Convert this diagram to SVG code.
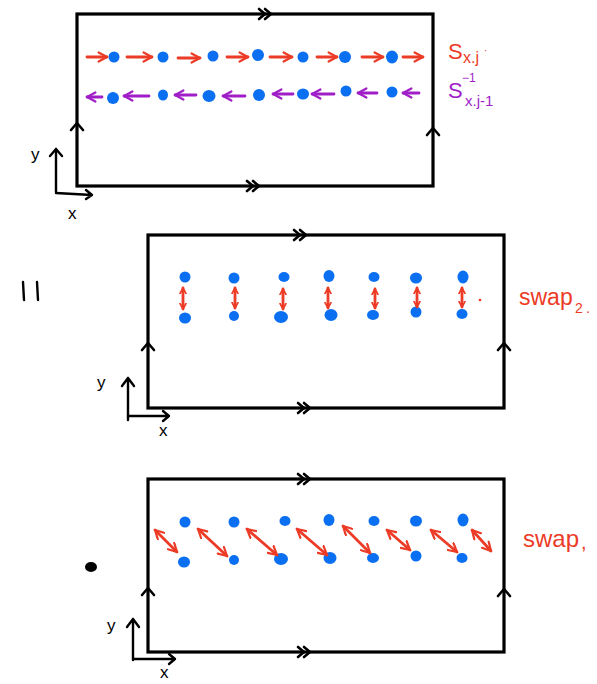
<svg xmlns="http://www.w3.org/2000/svg" width="597" height="684" viewBox="0 0 597 684">
<style>
.box{fill:none;stroke:#000;stroke-width:3.2;stroke-linejoin:miter}
.chev{fill:none;stroke:#000;stroke-width:2.6;stroke-linecap:round;stroke-linejoin:round}
.dot{fill:#0a6ff0}
.ra{fill:none;stroke:#ec3b26;stroke-width:2.8;stroke-linecap:round}
.pa{fill:none;stroke:#a01ec8;stroke-width:2.8;stroke-linecap:round}
.red{fill:#ec3b26;font-family:"Liberation Sans",Arial,sans-serif}
.pur{fill:#a01ec8;font-family:"Liberation Sans",Arial,sans-serif}
.ax{fill:none;stroke:#000;stroke-width:2.4;stroke-linecap:round;stroke-linejoin:round}
.axl{fill:#000;font-family:"Liberation Sans",Arial,sans-serif;font-size:17px}
</style>
<defs>
<marker id="mr" viewBox="0 0 10 10" refX="8.5" refY="5" markerWidth="4" markerHeight="4" orient="auto-start-reverse" markerUnits="strokeWidth">
<path d="M1,1 L8.5,5 L1,9" fill="none" stroke="#ec3b26" stroke-width="2" stroke-linecap="round" stroke-linejoin="round"/>
</marker>
<marker id="ms" viewBox="0 0 10 10" refX="8.5" refY="5" markerWidth="2.6" markerHeight="2.6" orient="auto-start-reverse" markerUnits="strokeWidth">
<path d="M1,1 L8.5,5 L1,9" fill="none" stroke="#ec3b26" stroke-width="2.4" stroke-linecap="round" stroke-linejoin="round"/>
</marker>
<marker id="mp" viewBox="0 0 10 10" refX="8.5" refY="5" markerWidth="4" markerHeight="4" orient="auto-start-reverse" markerUnits="strokeWidth">
<path d="M1,1 L8.5,5 L1,9" fill="none" stroke="#a01ec8" stroke-width="2" stroke-linecap="round" stroke-linejoin="round"/>
</marker>
</defs>

<!-- Panel 1 -->
<g id="panel1">
<rect class="box" x="77" y="14" width="356" height="172"/>
<path class="chev" d="M259,9 L265,14 L259,19 M265,9 L271,14 L265,19"/>
<path class="chev" d="M247,181 L253,186 L247,191 M253,181 L259,186 L253,191"/>
<path class="chev" d="M71,130 L77,123 L83,130"/>
<path class="chev" d="M427,135 L433,128 L439,135"/>
</g>
<g id="dots1">
<ellipse class="dot" cx="114" cy="57" rx="5.5" ry="5.5"/>
<ellipse class="dot" cx="163" cy="57" rx="5.5" ry="5.5"/>
<ellipse class="dot" cx="213" cy="56" rx="5.5" ry="5.5"/>
<ellipse class="dot" cx="258" cy="55" rx="6" ry="6"/>
<ellipse class="dot" cx="303" cy="57" rx="5.5" ry="5.5"/>
<ellipse class="dot" cx="345" cy="57" rx="6" ry="6"/>
<ellipse class="dot" cx="392" cy="57" rx="6" ry="6.5"/>
<ellipse class="dot" cx="113" cy="98" rx="6" ry="6"/>
<ellipse class="dot" cx="163" cy="95" rx="5" ry="5.5"/>
<ellipse class="dot" cx="209" cy="96" rx="6.5" ry="6"/>
<ellipse class="dot" cx="259" cy="95" rx="6" ry="6"/>
<ellipse class="dot" cx="303" cy="94" rx="6" ry="5.5"/>
<ellipse class="dot" cx="346" cy="91" rx="5.5" ry="5.5"/>
<ellipse class="dot" cx="392" cy="92" rx="5.5" ry="5.5"/>
</g>
<g id="label1">
<text class="red" x="448" y="59" font-size="22">S</text>
<text class="red" x="463" y="63" font-size="16">x.j</text>
<text class="red" x="484" y="54" font-size="10">·</text>
<text class="pur" x="448" y="98" font-size="22">S</text>
<text class="pur" x="462" y="82" font-size="12">−1</text>
<text class="pur" x="465" y="106" font-size="15">x.j-1</text>
</g>
<g id="axes1">
<path class="ax" d="M56,192 L56,149 M50,156 L56,149 L62,156"/>
<path class="ax" d="M56,193 L92,195 M86,190 L92,195 L86,199"/>
<text class="axl" x="31" y="160">y</text>
<text class="axl" x="68" y="219">x</text>
</g>

<!-- equals -->
<g id="equals">
<path class="ax" d="M23,282 L24,300 M37,282 L38,300" stroke-width="3"/>
</g>

<!-- Panel 2 -->
<g id="panel2">
<rect class="box" x="148" y="235" width="356" height="173"/>
<path class="chev" d="M294,230 L300,235 L294,240 M300,230 L306,235 L300,240"/>
<path class="chev" d="M298,403 L304,408 L298,413 M304,403 L310,408 L304,413"/>
<path class="chev" d="M142,350 L148,343 L154,350"/>
<path class="chev" d="M498,350 L504,343 L510,350"/>
</g>
<g id="dots2">
<ellipse class="dot" cx="185" cy="277" rx="5.5" ry="5.5"/>
<ellipse class="dot" cx="234" cy="278" rx="5.5" ry="5.5"/>
<ellipse class="dot" cx="284" cy="277" rx="5.5" ry="5"/>
<ellipse class="dot" cx="329" cy="276" rx="5.5" ry="6"/>
<ellipse class="dot" cx="374" cy="277" rx="5.5" ry="5"/>
<ellipse class="dot" cx="416" cy="278" rx="6" ry="5.5"/>
<ellipse class="dot" cx="463" cy="277" rx="5.5" ry="6.5"/>
<ellipse class="dot" cx="185" cy="318" rx="6" ry="5.5"/>
<ellipse class="dot" cx="234" cy="316" rx="5" ry="5"/>
<ellipse class="dot" cx="281" cy="317" rx="7" ry="6"/>
<ellipse class="dot" cx="331" cy="315" rx="6.5" ry="6"/>
<ellipse class="dot" cx="373" cy="315" rx="6" ry="5"/>
<ellipse class="dot" cx="416" cy="312" rx="5.5" ry="5.5"/>
<ellipse class="dot" cx="462" cy="314" rx="5.5" ry="5"/>
</g>
<g id="label2">
<circle cx="480" cy="300" r="1.3" fill="#ec3b26"/>
<text class="red" x="519" y="305" font-size="23">swap</text>
<text class="red" x="575" y="313" font-size="14">2</text>
<text class="red" x="586" y="313" font-size="14">.</text>
</g>
<g id="axes2">
<path class="ax" d="M128,420 L128,378 M122,386 L128,378 L134,386" stroke-width="3"/>
<path class="ax" d="M128,416 L169,416 M163,411 L169,416 L163,421"/>
<text class="axl" x="97" y="388">y</text>
<text class="axl" x="159" y="436">x</text>
</g>

<!-- Panel 3 -->
<g id="panel3">
<rect class="box" x="148" y="479" width="356" height="173"/>
<path class="chev" d="M298,474 L304,479 L298,484 M304,474 L310,479 L304,484"/>
<path class="chev" d="M298,647 L304,652 L298,657 M304,647 L310,652 L304,657"/>
<path class="chev" d="M142,595 L148,588 L154,595"/>
<path class="chev" d="M498,596 L504,589 L510,596"/>
</g>
<g id="dots3">
<ellipse class="dot" cx="185" cy="522" rx="5.5" ry="5.5"/>
<ellipse class="dot" cx="234" cy="522" rx="5.5" ry="5.5"/>
<ellipse class="dot" cx="285" cy="521" rx="5.5" ry="5"/>
<ellipse class="dot" cx="329" cy="520" rx="5.5" ry="6"/>
<ellipse class="dot" cx="374" cy="521" rx="5.5" ry="5"/>
<ellipse class="dot" cx="416" cy="521" rx="6" ry="5.5"/>
<ellipse class="dot" cx="463" cy="520" rx="5.5" ry="6.5"/>
<ellipse class="dot" cx="184" cy="562" rx="6" ry="5.5"/>
<ellipse class="dot" cx="234" cy="560" rx="5" ry="5"/>
<ellipse class="dot" cx="281" cy="559" rx="7" ry="6"/>
<ellipse class="dot" cx="330" cy="558" rx="6.5" ry="6"/>
<ellipse class="dot" cx="373" cy="558" rx="6" ry="5"/>
<ellipse class="dot" cx="416" cy="556" rx="5.5" ry="5.5"/>
<ellipse class="dot" cx="462" cy="558" rx="5.5" ry="5"/>
</g>
<g id="label3">
<ellipse cx="91" cy="567" rx="6" ry="5" fill="#000"/>
<text class="red" x="523" y="547" font-size="24">swap</text>
<text class="red" x="581" y="549" font-size="20">,</text>
</g>
<g id="axes3">
<path class="ax" d="M133,660 L133,619 M127,627 L133,619 L139,627" stroke-width="3"/>
<path class="ax" d="M134,659 L175,659 M169,654 L175,659 L169,664"/>
<text class="axl" x="107" y="631">y</text>
<text class="axl" x="160" y="678" font-size="16">x</text>
</g>

<!-- connectors -->
<g id="connectors">
<g marker-end="url(#mr)" class="ra">
<line x1="87" y1="57" x2="107" y2="57"/>
<line x1="127" y1="57" x2="152" y2="57"/>
<line x1="178" y1="58" x2="200" y2="58"/>
<line x1="227" y1="57" x2="248" y2="57"/>
<line x1="270" y1="57" x2="292" y2="57"/>
<line x1="317" y1="57" x2="337" y2="57"/>
<line x1="362" y1="57" x2="383" y2="57"/>
<line x1="403" y1="57" x2="423" y2="57"/>
</g>
<g marker-end="url(#mp)" class="pa">
<line x1="102" y1="97" x2="87" y2="97"/>
<line x1="149" y1="96" x2="124" y2="96"/>
<line x1="196" y1="95" x2="175" y2="95"/>
<line x1="245" y1="96" x2="223" y2="96"/>
<line x1="293" y1="94" x2="273" y2="94"/>
<line x1="334" y1="94" x2="312" y2="94"/>
<line x1="377" y1="93" x2="358" y2="93"/>
<line x1="419" y1="93" x2="403" y2="93"/>
</g>
<g marker-start="url(#ms)" marker-end="url(#ms)" class="ra">
<line x1="183" y1="288" x2="183" y2="309"/>
<line x1="235" y1="288" x2="235" y2="308"/>
<line x1="283" y1="289" x2="283" y2="309"/>
<line x1="328" y1="288" x2="328" y2="308"/>
<line x1="375" y1="289" x2="375" y2="308"/>
<line x1="417" y1="288" x2="417" y2="307"/>
<line x1="462" y1="288" x2="462" y2="307"/>
</g>
<g marker-start="url(#mr)" marker-end="url(#mr)" class="ra">
<line x1="155" y1="530" x2="177" y2="552"/>
<line x1="198" y1="529" x2="227" y2="556"/>
<line x1="247" y1="529" x2="277" y2="555"/>
<line x1="297" y1="529" x2="327" y2="555"/>
<line x1="343" y1="526" x2="370" y2="553"/>
<line x1="387" y1="530" x2="410" y2="550"/>
<line x1="431" y1="530" x2="457" y2="552"/>
<line x1="472" y1="530" x2="491" y2="551"/>
</g>
</g>
</svg>
